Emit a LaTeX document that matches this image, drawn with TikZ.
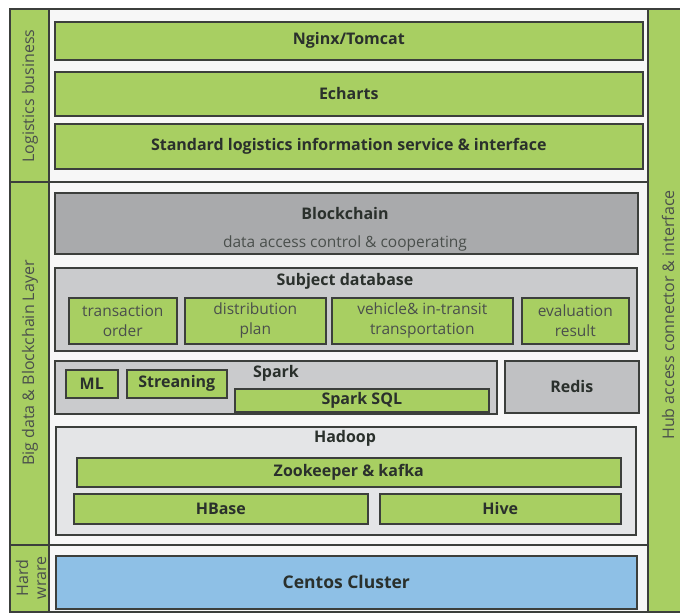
\documentclass[tikz,border=0pt]{standalone}
\usepackage{fontspec}
\setmainfont{Open Sans}
\usetikzlibrary{positioning}

\definecolor{verde}{HTML}{A8CF62}
\definecolor{grisosc}{HTML}{A9AAAC}
\definecolor{grismed}{HTML}{CACBCD}
\definecolor{grisclaro}{HTML}{E4E5E7}
\definecolor{azul}{HTML}{8EC0E6}
\definecolor{fondo}{HTML}{F7F7F7}
\definecolor{linea}{HTML}{3C3F3C}
\definecolor{texto}{HTML}{2A302C}

\begin{document}
\begin{tikzpicture}[x=1pt,y=-1pt,
	caja/.style={draw=linea,line width=1.6pt,fill=verde,text=texto,inner sep=0pt,
		anchor=north west,font=\bfseries\fontsize{16}{18}\selectfont},
	sub/.style={caja,font=\fontsize{15.5}{20}\selectfont,text=texto!85,align=center},
	titulo/.style={text=texto,font=\bfseries\fontsize{16}{18}\selectfont,inner sep=0pt},
	lado/.style={text=texto!85,font=\fontsize{16}{18}\selectfont,rotate=90,align=center,inner sep=0pt}]
	\useasboundingbox (0,0) rectangle (680,613);
	% marco exterior
	\filldraw[draw=linea,line width=1.6pt,fill=fondo] (49,9) rectangle (648,612);
	\filldraw[draw=linea,line width=1.6pt,fill=verde] (10,9) rectangle (49,182)
		(10,182) rectangle (49,545)
		(10,545) rectangle (49,612)
		(648,9) rectangle (682,612);
	\draw[linea,line width=1.6pt] (49,182) -- (648,182) (49,545) -- (648,545);
	\node[lado] (logistica) at (30,96) {Logistics business};
	\node[lado] (bigdata) at (30,363) {Big data \& Blockchain Layer};
	\node[lado] (hardware) at (31,578) {Hard\\wrare};
	\node[lado] (hub) at (668,315) {Hub access connector \& interface};
	% capa de negocio
	\node[caja,minimum width=588,minimum height=38] (nginx) at (54,21) {Nginx/Tomcat};
	\node[caja,minimum width=588,minimum height=44] (echarts) at (54,71) {Echarts};
	\node[caja,minimum width=588,minimum height=45] (estandar) at (54,123) {Standard logistics information service \& interface};
	% blockchain
	\node[caja,fill=grisosc,minimum width=583,minimum height=61] (blockchain) at (54,192) {};
	\node[titulo] (blocktit) at (345,213) {Blockchain};
	\node[titulo,font=\fontsize{15.5}{18}\selectfont,text=texto!85] (blockacc) at (345,243) {data access control \& cooperating};
	% base de datos
	\node[caja,fill=grismed,minimum width=582,minimum height=83] (subject) at (54,267) {};
	\node[titulo] (subjtit) at (345,281) {Subject database};
	\node[sub,minimum width=108,minimum height=46] (transaccion) at (68,297) {transaction\\order};
	\node[sub,minimum width=141,minimum height=46] (distribucion) at (184,297) {distribution\\plan};
	\node[sub,minimum width=181,minimum height=46] (vehiculo) at (331,297) {vehicle\& in-transit\\transportation};
	\node[sub,minimum width=107,minimum height=46] (evaluacion) at (521,297) {evaluation\\result};
	% spark y redis
	\node[caja,fill=grismed,minimum width=442,minimum height=53] (spark) at (54,360) {};
	\node[titulo] (sparktit) at (276,373) {Spark};
	\node[caja,minimum width=52,minimum height=28] (ml) at (65,369) {ML};
	\node[caja,minimum width=100,minimum height=28] (streaning) at (126,369) {Streaning};
	\node[caja,minimum width=254,minimum height=23] (sparksql) at (234,388) {Spark SQL};
	\node[caja,fill=grismed!95!black,minimum width=134,minimum height=52] (redis) at (504,360) {Redis};
	% hadoop
	\node[caja,fill=grisclaro,minimum width=580,minimum height=108] (hadoop) at (55,426) {};
	\node[titulo] (hadooptit) at (345,438) {Hadoop};
	\node[caja,minimum width=544,minimum height=29] (zookeeper) at (76,457) {Zookeeper \& kafka};
	\node[caja,minimum width=294,minimum height=30] (hbase) at (73,493) {HBase};
	\node[caja,minimum width=241,minimum height=30] (hive) at (379,493) {Hive};
	% hardware
	\node[caja,fill=azul,minimum width=581,minimum height=53,font=\bfseries\fontsize{17.5}{20}\selectfont] (centos) at (55,555) {Centos Cluster};
\end{tikzpicture}
\end{document}
